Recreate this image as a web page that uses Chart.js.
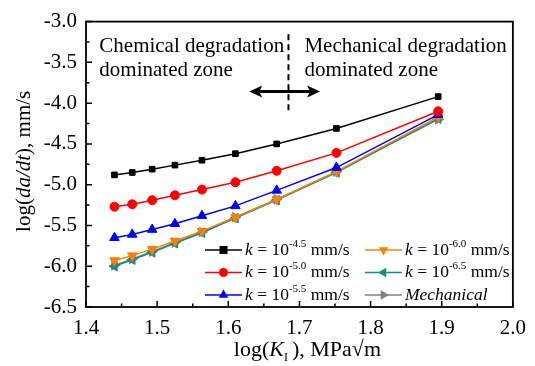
<!DOCTYPE html>
<html>
<head>
<meta charset="utf-8">
<script src="https://cdn.jsdelivr.net/npm/chart.js@4/dist/chart.umd.min.js"></script>
<style>
  body { margin: 0; background: #fff; }
  canvas { display: block; }
</style>
</head>
<body>
<canvas id="grafico" width="535" height="366"></canvas>
<script>
// log(K_I) values where the curves were computed
const logK = [1.44, 1.465, 1.493, 1.525, 1.563, 1.61, 1.668, 1.752, 1.895];

// log(da/dt) for each degradation rate k, plus the purely mechanical curve
const k45 = [-4.88, -4.85, -4.81, -4.76, -4.70, -4.62, -4.50, -4.31, -3.92];
const k50 = [-5.27, -5.24, -5.19, -5.13, -5.06, -4.97, -4.83, -4.61, -4.10];
const k55 = [-5.65, -5.61, -5.55, -5.48, -5.38, -5.26, -5.07, -4.79, -4.14];
const k60 = [-5.93, -5.87, -5.79, -5.69, -5.57, -5.40, -5.18, -4.84, -4.17];
const k65 = [-6.00, -5.92, -5.83, -5.72, -5.59, -5.41, -5.19, -4.85, -4.19];
const mecanico = [-5.99, -5.91, -5.82, -5.71, -5.58, -5.40, -5.18, -4.84, -4.20];

const expoentes = ['-4.5', '-5.0', '-5.5', '-6.0', '-6.5'];
const rotuloMecanico = 'Mechanical';

const fonte = "'Liberation Serif', 'Times New Roman', serif";

function serie(valores, cor, estilo, rotacao, raio) {
    return {
        data: valores.map((v, i) => ({ x: logK[i], y: v })),
        borderColor: cor,
        backgroundColor: cor,
        borderWidth: 1.5,
        pointStyle: estilo,
        pointRotation: rotacao,
        pointRadius: raio,
        pointBorderWidth: 1,
    };
}

const datasets = [
    serie(k45, '#000000', 'rect', 0, 4),
    serie(k50, '#ff0000', 'circle', 0, 4.5),
    serie(k55, '#0000ff', 'triangle', 0, 5.5),
    serie(k60, '#ff8000', 'triangle', 180, 5.5),
    serie(k65, '#138c8c', 'triangle', 270, 5.5),
    serie(mecanico, '#808080', 'triangle', 90, 5.5),
];
datasets.forEach((d, i) => {
    d.label = i < 5 ? 'k = 10^' + expoentes[i] + ' mm/s' : rotuloMecanico;
});

// draws a run of text pieces with their own fonts, returns the width
function textoMisto(ctx, pedacos, x, y, medir) {
    let cx = x;
    pedacos.forEach(p => {
        ctx.font = p.font;
        if (!medir) ctx.fillText(p.t, cx, y + (p.dy || 0));
        cx += ctx.measureText(p.t).width + (p.gap || 0);
    });
    return cx - x;
}

function marcador(ctx, estilo, rot, r, x, y, cor) {
    ctx.save();
    ctx.fillStyle = cor;
    ctx.translate(x, y);
    ctx.rotate(rot * Math.PI / 180);
    ctx.beginPath();
    if (estilo === 'rect') {
        ctx.rect(-r, -r, 2 * r, 2 * r);
    } else if (estilo === 'circle') {
        ctx.arc(0, 0, r, 0, Math.PI * 2);
    } else {
        ctx.moveTo(0, -r);
        ctx.lineTo(r * 0.866, r * 0.5);
        ctx.lineTo(-r * 0.866, r * 0.5);
        ctx.closePath();
    }
    ctx.fill();
    ctx.restore();
}

const enfeites = {
    id: 'enfeites',
    afterDraw(chart) {
        const { ctx, chartArea: a, scales: { x, y } } = chart;
        ctx.save();
        ctx.fillStyle = '#000';
        ctx.strokeStyle = '#000';

        // frame
        ctx.lineWidth = 1.8;
        ctx.strokeRect(a.left, a.top, a.right - a.left, a.bottom - a.top);

        // inward ticks, left and bottom only
        ctx.lineWidth = 1.5;
        ctx.beginPath();
        x.ticks.forEach(t => {
            const px = x.getPixelForValue(t.value);
            ctx.moveTo(px, a.bottom);
            ctx.lineTo(px, a.bottom - (t.label ? 6 : 3.5));
        });
        y.ticks.forEach(t => {
            const py = y.getPixelForValue(t.value);
            ctx.moveTo(a.left, py);
            ctx.lineTo(a.left + (t.label ? 6 : 3.5), py);
        });
        ctx.stroke();

        // axis titles
        ctx.textBaseline = 'alphabetic';
        const tituloX = [
            { t: 'log(', font: '22px ' + fonte },
            { t: 'K', font: 'italic 22px ' + fonte },
            { t: 'I', font: '12px ' + fonte, dy: 5, gap: 4 },
            { t: '), MPa\u221Am', font: '22px ' + fonte },
        ];
        const wx = textoMisto(ctx, tituloX, 0, 0, true);
        textoMisto(ctx, tituloX, (a.left + a.right) / 2 - wx / 2 + 8, 356, false);

        const tituloY = [
            { t: 'log(', font: '21px ' + fonte },
            { t: 'da/dt', font: 'italic 21px ' + fonte },
            { t: '), mm/s', font: '21px ' + fonte },
        ];
        const wy = textoMisto(ctx, tituloY, 0, 0, true);
        ctx.save();
        ctx.translate(30, (a.top + a.bottom) / 2 - 3);
        ctx.rotate(-Math.PI / 2);
        textoMisto(ctx, tituloY, -wy / 2, 0, false);
        ctx.restore();

        // zone annotations
        ctx.font = '21px ' + fonte;
        ctx.fillText('Chemical degradation', x.getPixelForValue(1.4187), y.getPixelForValue(-3.377));
        ctx.fillText('dominated zone', x.getPixelForValue(1.4187), y.getPixelForValue(-3.67));
        ctx.fillText('Mechanical degradation', x.getPixelForValue(1.707), y.getPixelForValue(-3.377));
        ctx.fillText('dominated zone', x.getPixelForValue(1.707), y.getPixelForValue(-3.67));

        // dashed divider
        const xd = x.getPixelForValue(1.6846);
        ctx.lineWidth = 2;
        ctx.setLineDash([6, 4]);
        ctx.beginPath();
        ctx.moveTo(xd, y.getPixelForValue(-3.156));
        ctx.lineTo(xd, y.getPixelForValue(-4.12));
        ctx.stroke();
        ctx.setLineDash([]);

        // double arrow
        const ya = y.getPixelForValue(-3.858);
        const x1 = x.getPixelForValue(1.6295);
        const x2 = x.getPixelForValue(1.729);
        ctx.lineWidth = 3;
        ctx.beginPath();
        ctx.moveTo(x1 + 8, ya);
        ctx.lineTo(x2 - 8, ya);
        ctx.stroke();
        ctx.beginPath();
        ctx.moveTo(x1, ya); ctx.lineTo(x1 + 13, ya - 6); ctx.lineTo(x1 + 10, ya); ctx.lineTo(x1 + 13, ya + 6); ctx.closePath();
        ctx.moveTo(x2, ya); ctx.lineTo(x2 - 13, ya - 6); ctx.lineTo(x2 - 10, ya); ctx.lineTo(x2 - 13, ya + 6); ctx.closePath();
        ctx.fill();

        // legend, two columns of three
        const fLeg = '17.5px ' + fonte;
        const fLegIt = 'italic 17.5px ' + fonte;
        const fExp = '11px ' + fonte;
        ctx.textBaseline = 'middle';
        chart.data.datasets.forEach((d, i) => {
            const col = i < 3 ? 0 : 1;
            const row = i % 3;
            const lx = a.left + 119 + col * 160;
            const ly = a.bottom - 57 + row * 22.5;
            ctx.strokeStyle = d.borderColor;
            ctx.lineWidth = 1.5;
            ctx.beginPath();
            ctx.moveTo(lx, ly);
            ctx.lineTo(lx + 37, ly);
            ctx.stroke();
            marcador(ctx, d.pointStyle, d.pointRotation, d.pointRadius, lx + 18.5, ly, d.borderColor);
            ctx.fillStyle = '#000';
            let pedacos;
            if (i < 5) {
                pedacos = [
                    { t: 'k', font: fLegIt },
                    { t: ' = 10', font: fLeg },
                    { t: expoentes[i], font: fExp, dy: -6 },
                    { t: ' mm/s', font: fLeg },
                ];
            } else {
                pedacos = [{ t: rotuloMecanico, font: fLegIt }];
            }
            textoMisto(ctx, pedacos, lx + 40, ly, false);
        });
        ctx.restore();
    }
};

new Chart(document.getElementById('grafico'), {
    type: 'line',
    data: { datasets },
    options: {
        responsive: false,
        animation: false,
        devicePixelRatio: 1,
        layout: { padding: { top: 17, right: 20, left: 0, bottom: 0 } },
        plugins: { legend: { display: false }, tooltip: { enabled: false } },
        scales: {
            x: {
                type: 'linear',
                min: 1.4,
                max: 2.0,
                afterFit: s => { s.height = 59; },
                grid: { display: false, drawTicks: false },
                border: { display: false },
                ticks: {
                    stepSize: 0.05,
                    autoSkip: false,
                    maxRotation: 0,
                    padding: 9,
                    color: '#000',
                    font: { family: fonte, size: 21 },
                    callback: v => Math.round(v * 100) % 10 === 0 ? v.toFixed(1) : '',
                },
            },
            y: {
                min: -6.5,
                max: -3.0,
                afterFit: s => { s.width = 86; },
                grid: { display: false, drawTicks: false },
                border: { display: false },
                ticks: {
                    stepSize: 0.25,
                    autoSkip: false,
                    padding: 9,
                    color: '#000',
                    font: { family: fonte, size: 21 },
                    callback: v => Math.round(v * 100) % 50 === 0 ? v.toFixed(1) : '',
                },
            },
        },
    },
    plugins: [enfeites],
});
</script>
</body>
</html>
